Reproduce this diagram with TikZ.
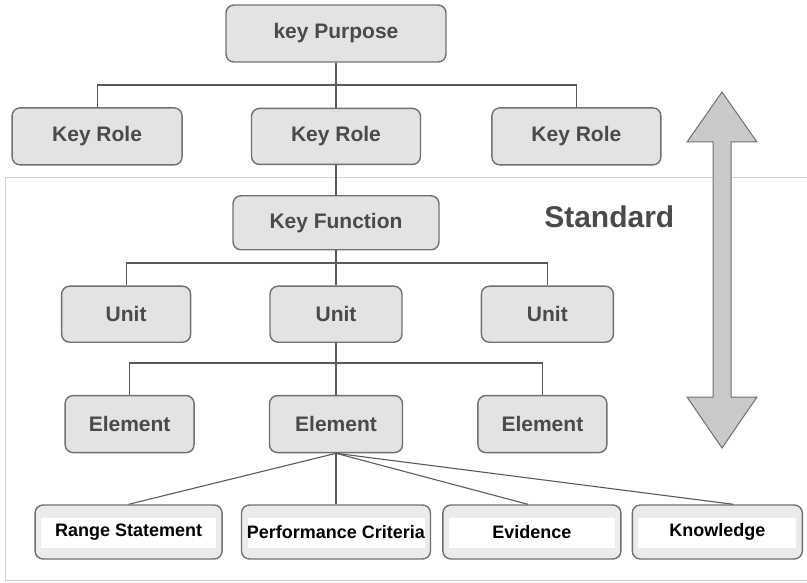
\documentclass[tikz,border=0pt]{standalone}
\usepackage{fontspec}
\setmainfont{Liberation Sans}
\usetikzlibrary{positioning}
\definecolor{boxgray}{HTML}{E3E3E3}
\definecolor{edgegray}{HTML}{707070}
\definecolor{textgray}{HTML}{4A4A4A}
\definecolor{linegray}{HTML}{5A5A5A}
\definecolor{arrowgray}{HTML}{C9C9C9}
\definecolor{framegray}{HTML}{CFCFCF}
\begin{document}
\begin{tikzpicture}[x=1pt, y=-1pt, node distance={45pt}, line width=1.1pt,
	main/.style = {draw=edgegray, fill=boxgray, rounded corners=8pt, line width=1.4pt, inner sep=0pt, text=textgray, font=\fontsize{21}{25}\selectfont\bfseries},
	leaf/.style = {draw=edgegray, fill=boxgray!70, rounded corners=8pt, line width=1.4pt, inner sep=0pt, minimum height=54pt, font=\fontsize{18}{22}\selectfont\bfseries,
		path picture={\fill[white, sharp corners] ([xshift=6pt,yshift=-13pt]path picture bounding box.north west) rectangle ([xshift=-6pt,yshift=11pt]path picture bounding box.south east);}}]
		\useasboundingbox (0,0) rectangle (807,583);
		\draw[framegray, line width=1pt] (807,178) -- (5,178) -- (5,580) -- (807,580);
		\draw[edgegray, fill=arrowgray, line width=1pt] (722,92) -- (757,142) -- (731,142) -- (731,397) -- (757,397) -- (722,448) -- (687,397) -- (713,397) -- (713,142) -- (687,142) -- cycle;
		\node[main, minimum width=220pt, minimum height=57pt] (1) at (336,33.5) {key Purpose};
		\node[main, minimum width=169pt, minimum height=56pt] (3) [below=45pt of 1] {Key Role};
		\node[main, minimum width=170pt, minimum height=57pt] (2) [left=68pt of 3] {Key Role};
		\node[main, minimum width=169pt, minimum height=57pt] (4) [right=70pt of 3] {Key Role};
		\node[main, minimum width=206pt, minimum height=54pt] (5) [below=30pt of 3] {Key Function};
		\node[main, minimum width=132pt, minimum height=56pt] (7) [below=35pt of 5] {Unit};
		\node[main, minimum width=129pt, minimum height=56pt] (6) [left=78pt of 7] {Unit};
		\node[main, minimum width=132pt, minimum height=56pt] (8) [right=78pt of 7] {Unit};
		\node[main, minimum width=133pt, minimum height=57pt] (10) [below=52pt of 7] {Element};
		\node[main, minimum width=129pt, minimum height=57pt] (9) [left=74pt of 10] {Element};
		\node[main, minimum width=129pt, minimum height=57pt] (11) [right=74pt of 10] {Element};
		\node[leaf, minimum width=189pt] (13) [below=51pt of 10] {Performance Criteria};
		\node[leaf, minimum width=187pt] (12) [left=18pt of 13] {Range Statement};
		\node[leaf, minimum width=178pt] (14) [right=11pt of 13] {Evidence};
		\node[leaf, minimum width=170pt] (15) [right=10pt of 14] {Knowledge};
		\node[text=textgray, inner sep=0pt, font=\fontsize{30}{34}\selectfont\bfseries] (16) [right=104pt of 5, yshift=6pt] {Standard};
		\coordinate (b1) at (336,85);
		\coordinate (b2) at (336,263);
		\coordinate (b3) at (336,363);
		\draw[linegray] (1) -- (3);
		\draw[linegray] (2.north) |- (b1) -| (4.north);
		\draw[linegray] (3) -- (5);
		\draw[linegray] (5) -- (7);
		\draw[linegray] (6.north) |- (b2) -| (8.north);
		\draw[linegray] (7) -- (10);
		\draw[linegray] (9.north) |- (b3) -| (11.north);
		\draw[linegray] (10.south) -- (12.north);
		\draw[linegray] (10.south) -- (13.north);
		\draw[linegray] (10.south) -- ([xshift=-4pt]14.north);
		\draw[linegray] (10.south) -- ([xshift=16pt]15.north);
		\end{tikzpicture}
\end{document}
